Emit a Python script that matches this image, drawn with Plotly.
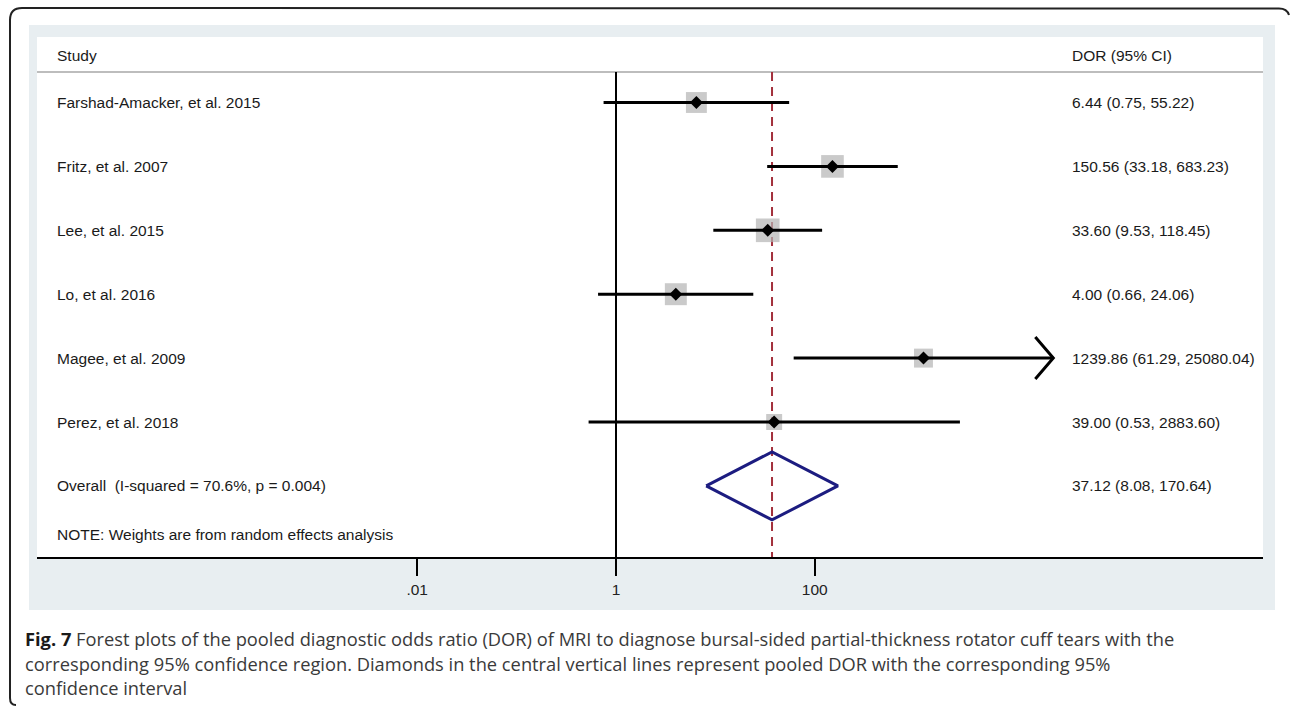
import numpy as np
import plotly.graph_objects as go

# ---------------- data ----------------
studies = ["Farshad-Amacker, et al. 2015", "Fritz, et al. 2007", "Lee, et al. 2015",
           "Lo, et al. 2016", "Magee, et al. 2009", "Perez, et al. 2018"]
dor = [6.44, 150.56, 33.60, 4.00, 1239.86, 39.00]
ci_low = [0.75, 33.18, 9.53, 0.66, 61.29, 0.53]
ci_high = [55.22, 683.23, 118.45, 24.06, 25080.04, 2883.60]
weights = [16.8, 19.7, 21.5, 18.5, 13.8, 9.8]          # % weight (box area)
truncated = [False, False, False, False, True, False]   # CI drawn with arrow

overall_label = "Overall  (I-squared = 70.6%, p = 0.004)"
overall_dor = 37.12
overall_low = 8.08
overall_high = 170.64
note_text = "NOTE: Weights are from random effects analysis"

tick_vals = [0.01, 1, 100]
tick_text = [".01", "1", "100"]

header_left = "Study"
header_right = "DOR (95% CI)"
caption_bold = "Fig. 7"
caption_lines = [
    " Forest plots of the pooled diagnostic odds ratio (DOR) of MRI to diagnose bursal-sided partial-thickness rotator cuff tears with the",
    "corresponding 95% confidence region. Diamonds in the central vertical lines represent pooled DOR with the corresponding 95%",
    "confidence interval",
]

# ---------------- layout geometry (pixels) ----------------
W, H = 1290, 706
L, R, T, B = 37, 1263, 37, 557
PW, PH = R - L, B - T
X_ORIGIN, PX_PER_DEC = 616.0, 99.4          # pixel of DOR=1, pixels per decade
ROW0, ROW_STEP = 102.5, 63.9                 # pixel of row 1, pixels per row


def px2x(p):
    return (p - L) / PW


def py2y(p):
    return (B - p) / PH


def prow(p):
    return 1 + (p - ROW0) / ROW_STEP


xr = [(L - X_ORIGIN) / PX_PER_DEC, (R - X_ORIGIN) / PX_PER_DEC]
yr = [prow(B), prow(T)]
y_head_line = prow(72)
rows = list(range(1, len(studies) + 1))
row_overall = len(studies) + 1

TXT = "Liberation Sans, Arial, sans-serif"
fig = go.Figure()

# null line and overall dashed line
fig.add_trace(go.Scatter(x=[1, 1], y=[y_head_line, yr[0]], mode="lines",
                         line=dict(color="black", width=2), hoverinfo="skip"))
fig.add_trace(go.Scatter(x=[overall_dor, overall_dor], y=[y_head_line, yr[0]], mode="lines",
                         line=dict(color="#A3303C", width=2, dash="9px,6px"), hoverinfo="skip"))

# weight boxes
box_k = 5.1
fig.add_trace(go.Scatter(x=dor, y=rows, mode="markers",
                         marker=dict(symbol="square", size=[box_k * np.sqrt(w) for w in weights],
                                     color="#B4B4B4", line=dict(width=0)),
                         hoverinfo="skip"))

# CI lines
cx, cy = [], []
for lo, hi, r in zip(ci_low, ci_high, rows):
    cx += [lo, hi, None]
    cy += [r, r, None]
fig.add_trace(go.Scatter(x=cx, y=cy, mode="lines", line=dict(color="black", width=3),
                         hoverinfo="skip"))

# arrows for truncated CIs
ax, ay = [], []
arm_dx_dec = 18 / PX_PER_DEC
arm_dy = 21 / ROW_STEP
for hi, r, t in zip(ci_high, rows, truncated):
    if t:
        xb = hi / (10 ** arm_dx_dec)
        ax += [xb, hi, xb, None]
        ay += [r - arm_dy, r, r + arm_dy, None]
fig.add_trace(go.Scatter(x=ax, y=ay, mode="lines", line=dict(color="black", width=3),
                         hoverinfo="skip"))

# point estimates
fig.add_trace(go.Scatter(x=dor, y=rows, mode="markers",
                         marker=dict(symbol="diamond", size=10, color="black"),
                         hoverinfo="skip"))

# overall diamond
dh = 34 / ROW_STEP
fig.add_trace(go.Scatter(x=[overall_low, overall_dor, overall_high, overall_dor, overall_low],
                         y=[row_overall, row_overall - dh, row_overall, row_overall + dh, row_overall],
                         mode="lines", line=dict(color="#1C1C80", width=3), hoverinfo="skip"))

# ---------------- texts ----------------
ann = []
font_row = dict(family=TXT, size=15.5, color="#1a1a1a")


def row_text(xpix, y, text, yref="y"):
    return dict(x=px2x(xpix), y=y, xref="paper", yref=yref, text=text, showarrow=False,
                xanchor="left", yanchor="middle", font=font_row, borderpad=0)


ann.append(row_text(56, prow(55), header_left))
ann.append(row_text(1071, prow(55), header_right))
for s, d, lo, hi, r in zip(studies, dor, ci_low, ci_high, rows):
    ann.append(row_text(56, r, s))
    ann.append(row_text(1071, r, f"{d:.2f} ({lo:.2f}, {hi:.2f})"))
ann.append(row_text(56, row_overall, overall_label))
ann.append(row_text(1071, row_overall, f"{overall_dor:.2f} ({overall_low:.2f}, {overall_high:.2f})"))
ann.append(row_text(56, prow(534), note_text))

cap_font = dict(family="Open Sans, Noto Sans, sans-serif", size=18.3, color="#3a3a3a")
cap_y = [638, 663, 687]
for i, (line, py) in enumerate(zip(caption_lines, cap_y)):
    txt = (f"<b><span style='color:#1a1a1a'>{caption_bold}</span></b>" + line) if i == 0 else line
    ann.append(dict(x=px2x(24), y=py2y(py), xref="paper", yref="paper", text=txt,
                    showarrow=False, xanchor="left", yanchor="middle", font=cap_font, borderpad=0))

# ---------------- shapes ----------------
shapes = [
    dict(type="rect", xref="paper", yref="paper", x0=px2x(29), x1=px2x(1275),
         y0=py2y(610), y1=py2y(25), fillcolor="#E8EEF1", line=dict(width=0), layer="below"),
    dict(type="rect", xref="paper", yref="paper", x0=px2x(37), x1=px2x(1263),
         y0=py2y(557), y1=py2y(37), fillcolor="white", line=dict(width=0), layer="below"),
    dict(type="line", xref="paper", yref="y", x0=0, x1=1, y0=y_head_line, y1=y_head_line,
         line=dict(color="#BDBDBD", width=2), layer="below"),
    dict(type="path", xref="paper", yref="paper",
         path=(f"M {px2x(16)},{py2y(705)} Q {px2x(10)},{py2y(705)} {px2x(10)},{py2y(698)} "
               f"L {px2x(10)},{py2y(20)} Q {px2x(10)},{py2y(8)} {px2x(22)},{py2y(8)} "
               f"L {px2x(1279)},{py2y(8.5)} Q {px2x(1287)},{py2y(8.5)} {px2x(1289)},{py2y(15)}"),
         line=dict(color="#222222", width=2), layer="below"),
]

fig.update_layout(
    width=W, height=H,
    margin=dict(l=L, r=W - R, t=T, b=H - B, pad=0),
    paper_bgcolor="white", plot_bgcolor="white",
    showlegend=False,
    xaxis=dict(type="log", range=xr, tickvals=tick_vals, ticktext=tick_text,
               ticks="outside", ticklen=17, tickwidth=2, tickcolor="black",
               showline=True, linewidth=2, linecolor="black", mirror=False,
               showgrid=False, zeroline=False, fixedrange=True,
               tickfont=dict(family=TXT, size=15.5, color="#222")),
    yaxis=dict(range=yr, visible=False, showgrid=False, zeroline=False, fixedrange=True),
    annotations=ann,
    shapes=shapes,
)

fig.write_html("out.html", config={"displayModeBar": False},
               post_script="document.body.style.margin='0';")
